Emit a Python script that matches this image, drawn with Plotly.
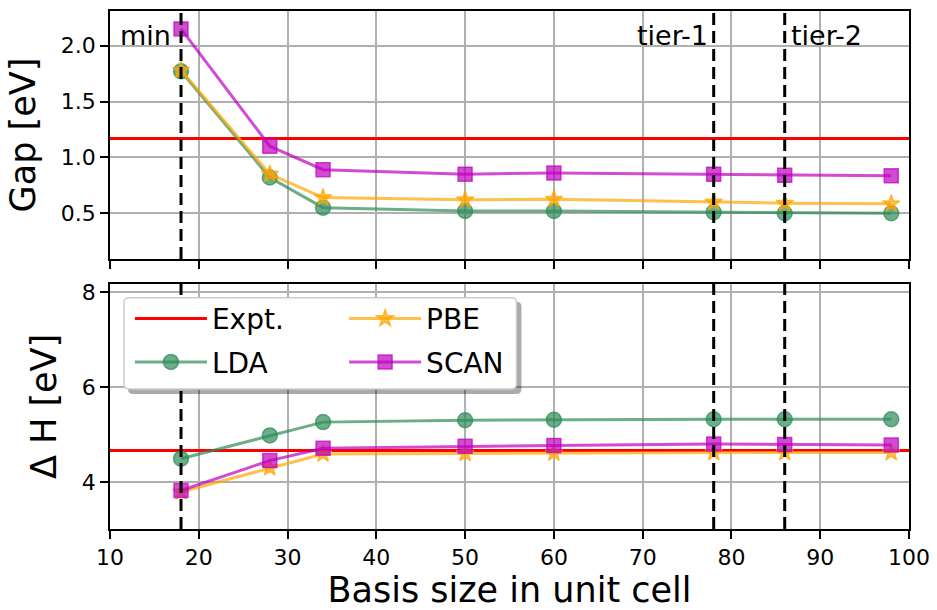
import plotly.graph_objects as go

# ---------------- data ----------------
basis = [18, 28, 34, 50, 60, 78, 86, 98]
gap_lda = [1.77, 0.82, 0.55, 0.52, 0.52, 0.51, 0.50, 0.50]
gap_pbe = [1.78, 0.85, 0.64, 0.62, 0.625, 0.60, 0.59, 0.585]
gap_scan = [2.15, 1.10, 0.89, 0.85, 0.86, 0.85, 0.84, 0.835]
dh_lda = [4.50, 4.99, 5.27, 5.31, 5.32, 5.33, 5.33, 5.33]
dh_pbe = [3.80, 4.31, 4.60, 4.61, 4.62, 4.63, 4.63, 4.63]
dh_scan = [3.83, 4.46, 4.72, 4.76, 4.78, 4.81, 4.80, 4.79]
expt_gap = 1.17
expt_dh = 4.67
marks_x = [18, 78, 86]
marks_label = ["min", "tier-1", "tier-2"]
x_ticks = [10, 20, 30, 40, 50, 60, 70, 80, 90, 100]
gap_ticks = [0.5, 1.0, 1.5, 2.0]
dh_ticks = [4, 6, 8]

# ---------------- style ----------------
W, H = 937, 610
ML, MR, MT, MB = 110, 25, 7, 81
PW, PH = W - ML - MR, H - MT - MB
XR = [10, 100]
FONT = "DejaVu Sans"

def py2paper(py):
    return (H - MB - py) / PH

def px2paper(px):
    return (px - ML) / PW

series = [
    ("LDA", "circle", 15, "rgba(46,139,87,0.7)", gap_lda, dh_lda, "legend"),
    ("PBE", "star", 13, "rgba(255,165,0,0.7)", gap_pbe, dh_pbe, "legend2"),
    ("SCAN", "square", 14, "rgba(191,0,191,0.7)", gap_scan, dh_scan, "legend2"),
]

fig = go.Figure()

# Expt lines
for ya, val, show in (("y", expt_gap, False), ("y2", expt_dh, True)):
    fig.add_trace(go.Scatter(
        x=XR, y=[val, val], mode="lines", name="Expt.",
        line=dict(color="red", width=3), xaxis="x" if ya == "y" else "x2", yaxis=ya,
        showlegend=show, legend="legend", legendgroup="expt"))

for name, sym, size, col, g, d, leg in series:
    for ya, vals, show in (("y", g, False), ("y2", d, True)):
        fig.add_trace(go.Scatter(
            x=basis, y=vals, mode="lines+markers", name=name,
            line=dict(color=col, width=3),
            marker=dict(symbol=sym, size=size, color=col, line=dict(color=col, width=1.5)),
            xaxis="x" if ya == "y" else "x2", yaxis=ya,
            showlegend=show, legend=leg, legendgroup=name))

shapes = []
for xv in marks_x:
    for xr, yr in (("x", "y domain"), ("x2", "y2 domain")):
        shapes.append(dict(type="line", xref=xr, yref=yr, x0=xv, x1=xv, y0=0, y1=1,
                           line=dict(color="black", width=3, dash="12px,6px"), layer="above"))

def rounded(x0, y0, x1, y1, r):
    rx, ry = r / PW, r / PH
    X0, X1 = px2paper(x0), px2paper(x1)
    Y0, Y1 = py2paper(y0), py2paper(y1)  # Y0 top, Y1 bottom
    return (f"M{X0+rx},{Y0} L{X1-rx},{Y0} Q{X1},{Y0} {X1},{Y0-ry} "
            f"L{X1},{Y1+ry} Q{X1},{Y1} {X1-rx},{Y1} L{X0+rx},{Y1} "
            f"Q{X0},{Y1} {X0},{Y1+ry} L{X0},{Y0-ry} Q{X0},{Y0} {X0+rx},{Y0} Z")

shapes.append(dict(type="path", xref="paper", yref="paper", path=rounded(128, 300, 523, 393, 5),
                   fillcolor="rgba(0,0,0,0.33)", line=dict(width=0), layer="above"))
shapes.append(dict(type="path", xref="paper", yref="paper", path=rounded(124, 296, 518, 388, 5),
                   fillcolor="white", line=dict(color="#cccccc", width=1.5), layer="above"))

annotations = []
shifts = [(-8, "right"), (-4, "right"), (4, "left")]
for xv, lab, (xs, anc) in zip(marks_x, marks_label, shifts):
    annotations.append(dict(x=xv, y=2.0, xref="x", yref="y", text=lab, showarrow=False,
                            xanchor=anc, yanchor="bottom", xshift=xs, yshift=-7,
                            font=dict(size=27, color="black", family=FONT)))

axis_common = dict(showline=True, linecolor="black", linewidth=1.5, mirror=True,
                   ticks="outside", ticklen=8, tickwidth=1.5, tickcolor="black",
                   showgrid=True, gridcolor="#b0b0b0", gridwidth=1.5, zeroline=False,
                   tickfont=dict(size=22, color="black", family=FONT))

fig.update_layout(
    width=W, height=H, margin=dict(l=ML, r=MR, t=MT, b=MB),
    paper_bgcolor="white", plot_bgcolor="white",
    font=dict(family=FONT, color="black"),
    xaxis=dict(domain=[0, 1], anchor="y", range=XR, tickvals=x_ticks, showticklabels=False, **axis_common),
    yaxis=dict(domain=[py2paper(257), 1], anchor="x", range=[0.09, 2.31], tickvals=gap_ticks,
               tickformat=".1f", title=dict(text="Gap [eV]", font=dict(size=35)), **axis_common),
    xaxis2=dict(domain=[0, 1], anchor="y2", range=XR, tickvals=x_ticks,
                title=dict(text="Basis size in unit cell", font=dict(size=35), standoff=8), **axis_common),
    yaxis2=dict(domain=[0, py2paper(282)], anchor="x2", range=[3.02, 8.18], tickvals=dh_ticks,
                title=dict(text="Δ H [eV]", font=dict(size=35)), **axis_common),
    legend=dict(x=px2paper(130), y=py2paper(292), xanchor="left", yanchor="top",
                bgcolor="rgba(0,0,0,0)", borderwidth=0, font=dict(size=28, family=FONT),
                itemwidth=72, tracegroupgap=4),
    legend2=dict(x=px2paper(345), y=py2paper(292), xanchor="left", yanchor="top",
                 bgcolor="rgba(0,0,0,0)", borderwidth=0, font=dict(size=28, family=FONT),
                 itemwidth=72, tracegroupgap=4),
    shapes=shapes, annotations=annotations,
)

fig.write_html("out.html")
